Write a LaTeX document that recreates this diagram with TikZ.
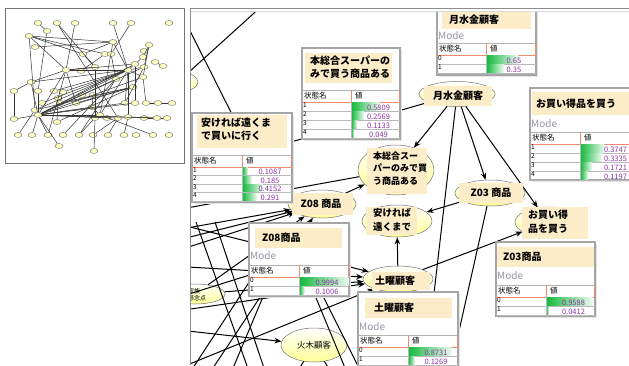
\documentclass[tikz,border=0pt]{standalone}
\usepackage{fontspec}
\setmainfont{Noto Sans CJK JP}
\usetikzlibrary{arrows.meta,shapes.geometric}
\definecolor{cream}{RGB}{252,236,200}
\definecolor{ellfill}{RGB}{255,255,150}
\definecolor{tfill}{RGB}{255,255,195}
\definecolor{barg}{RGB}{20,185,60}
\definecolor{valc}{RGB}{140,50,165}
\definecolor{hdr}{RGB}{240,140,110}
\definecolor{modec}{RGB}{150,150,165}
\definecolor{frame}{RGB}{165,165,165}
\tikzset{
  ell/.style={ellipse, draw=black!55, line width=0.5pt, top color=white, bottom color=ellfill, inner sep=0pt},
  labt/.style={font=\bfseries\fontsize{10}{12.5}\selectfont, inner sep=0pt, align=left},
  lnk/.style={draw=black, line width=1pt},
  arrw/.style={lnk, -{Stealth[length=7pt,width=5.5pt]}},
  modet/.style={font=\fontsize{10}{12}\selectfont, text=modec, inner sep=0pt},
  hdt/.style={font=\fontsize{7.5}{9}\selectfont, inner sep=0pt},
  rlt/.style={font=\fontsize{6.5}{7}\selectfont, inner sep=0pt},
  vlt/.style={font=\fontsize{7.5}{8}\selectfont, text=valc, inner sep=0pt},
  tn/.style={ellipse, draw=black!65, fill=tfill, minimum width=8pt, minimum height=5pt, inner sep=0pt, line width=0.35pt},
  tl/.style={draw=black!80, line width=0.5pt}
}
\newcommand\monbox[4]{%
  \fill[black!10] (#1+2,#2+2) rectangle (#3+2,#4+2);
  \filldraw[fill=white, draw=frame, line width=1.1pt] (#1,#2) rectangle (#3,#4);}
\newcommand\mtitle[4]{\fill[cream] (#1,#2) rectangle (#3,#4);}
\newcommand\modetext[2]{\node[modet, anchor=west] at (#1,#2) {Mode};}
\newcommand\mhead[4]{%
  \draw[gray!60, line width=0.5pt] (#1,#4) -- (#3,#4);
  \draw[hdr, line width=0.6pt] (#1,#4+12) -- (#3,#4+12) (#2,#4) -- (#2,#4+12) (#3-0.5,#4) -- (#3-0.5,#4+12);
  \node[hdt, anchor=west] at (#1+2,#4+6) {状態名};
  \node[hdt, anchor=west] at (#2+4,#4+6) {値};}
\newcommand\mrow[7]{%
  \pgfmathsetmacro\bw{max(1,(#3-#2-1)*#7)}
  \shade[left color=barg, right color=barg!8] (#2+0.5,#4+0.5) rectangle ++(\bw,#5-1);
  \draw[gray!55, line width=0.5pt] (#1,#4+#5) -- (#3,#4+#5) (#2,#4) -- (#2,#4+#5);
  \node[rlt, anchor=north west] at (#1+1,#4+0.3) {#6};
  \node[vlt] at ({(#2+#3)/2+3},#4+#5/2+1) {#7};}
\begin{document}
\begin{tikzpicture}[x=1pt,y=-1pt]
\useasboundingbox (0,0) rectangle (629,365);
\fill[white] (0,0) rectangle (629,365);

% ---------------- thumbnail ----------------
\draw[black!55, line width=0.8pt] (5,8) rectangle (184,163);
\foreach \n/\x/\y in {1/38/23,2/57/23,3/75/23,4/113/23,5/131/23,6/169/23,7/47/31,8/29/36,9/35/47,10/113/42,
 11/149/45,12/83/54,13/105/54,14/111/54,15/144/51,16/135/64,17/155/62,18/143/57,19/66/70,20/81/71,
 21/95/67,22/144/67,23/163/66,24/128/70,25/31/82,26/116/79,27/143/77,28/14/91,29/38/91,30/54/91,
 31/63/92,32/82/95,33/93/95,34/133/87,35/58/98,36/60/103,37/42/103,38/76/103,39/125/103,40/135/103,
 41/146/103,42/158/103,43/172/103,44/92/107,45/35/110,46/38/115,47/100/115,48/95/118,49/107/118,50/118/118,
 51/128/117,52/144/118,53/157/118,54/167/118,55/14/119,56/57/122,57/18/135,58/32/135,59/48/135,60/63/135,
 61/79/135,62/93/135,63/108/135,64/124/135,65/136/135,66/153/135,67/169/135,68/59/146,69/94/151}
  \node[tn] (t\n) at (\x,\y) {};
\foreach \a/\b in {46/24,46/34,46/26,46/39,46/51,46/50,46/22,46/16,46/47,46/44,46/27,46/40,45/24,45/34,37/24,
 46/49,46/53,19/24,19/46,19/25,19/8,19/21,19/16,25/24,25/28,25/46,8/10,8/12,8/13,7/1,2/21,2/50,4/24,5/14,
 10/12,10/24,11/27,11/22,11/18,16/24,24/22,24/27,24/51,24/39,24/31,24/30,34/36,34/38,34/56,26/61,26/60,
 51/53,51/52,51/64,50/63,50/62,47/44,47/66,47/49,46/59,46/58,46/55,46/68,48/69,48/61,12/21,13/20,8/45,
 29/46,31/36,35/56,33/44,19/38,16/40,22/39,27/41,23/17,18/16,42/43,41/42,52/53,53/54,10/47,10/9,7/29,
 28/55,45/57,19/59,24/47,3/19,14/26,21/48}
  \draw[tl] (t\a) -- (t\b);

% ---------------- main panel ----------------
\begin{scope}
\clip (191,11) rectangle (629,365);
% ellipses
\node[ell, minimum width=76pt, minimum height=25pt] (GSK) at (457,94) {};
\node[ell, minimum width=76pt, minimum height=50pt] (HON) at (396,170) {};
\node[ell, minimum width=68pt, minimum height=28pt] (Z08) at (322,204) {};
\node[ell, minimum width=70pt, minimum height=32pt] (YSK) at (397,221) {};
\node[ell, minimum width=70pt, minimum height=26pt] (Z03) at (490,193) {};
\node[ell, minimum width=66pt, minimum height=30pt] (OKD) at (548,222) {};
\node[ell, minimum width=70pt, minimum height=26pt] (DOY) at (398,279) {};
\node[ell, minimum width=66pt, minimum height=34pt, font=\fontsize{8.5}{10}\selectfont] (KAM) at (314,345) {火木顧客};
\node[ell, minimum width=60pt, minimum height=20pt] (KZK) at (195,294) {};
\node[ell, minimum width=40pt, minimum height=20pt] (EDG) at (178,82) {};
\node[font=\fontsize{6}{6.5}\selectfont, align=left, inner sep=0pt, anchor=west] (KZKt) at (188,294.5) {家族\\懸念点};
% free ends
\coordinate (g1) at (170,177);
\coordinate (g2) at (424,380);
\coordinate (g3) at (448,380);
\coordinate (g4) at (274,-5);
\coordinate (g5) at (177,5);
\coordinate (g6) at (255,160);
\coordinate (g7) at (170,211);
\coordinate (b1) at (170,231);
\coordinate (b2) at (170,242);
\coordinate (b3) at (170,253);
\coordinate (b4) at (205,380);
\coordinate (d1) at (170,222);
\coordinate (d2) at (170,266);
\coordinate (d3) at (170,312);
\coordinate (d4) at (170,372);
\coordinate (k1) at (170,329);
\coordinate (c1a) at (196,222); \coordinate (c1b) at (252,380);
\coordinate (c2a) at (215,222); \coordinate (c2b) at (268,380);
\coordinate (c3a) at (185,380); \coordinate (c3b) at (282,232);
\coordinate (c4a) at (228,380); \coordinate (c4b) at (292,228);
\coordinate (c5a) at (170,300); \coordinate (c5b) at (345,245);
\coordinate (c6a) at (300,250); \coordinate (c6b) at (365,380);
\coordinate (c7a) at (290,235); \coordinate (c7b) at (350,380);
\coordinate (c8a) at (292,380); \coordinate (c8b) at (336,380);
% connectors
\draw[arrw] (GSK) -- (HON);
\draw[arrw] (GSK) -- (Z03);
\draw[arrw] (GSK) -- (OKD);
\draw[arrw] (Z03) -- (YSK);
\draw[arrw] (DOY) -- (YSK);
\draw[arrw] (DOY) -- (OKD);
\draw[arrw] (Z08) -- (HON);
\draw[lnk] (GSK) -- (g1);
\draw[lnk] (GSK) -- (g2);
\draw[lnk] (Z03) -- (g3);
\draw[lnk] (EDG) -- (g4);
\draw[lnk] (g5) -- (g6);
\draw[lnk] (g7) -- (HON);
\draw[arrw] (b1) -- (Z08);
\draw[arrw] (b2) -- (Z08);
\draw[arrw] (b3) -- (Z08);
\draw[arrw] (b4) -- (Z08);
\draw[arrw] (KZK) -- (Z08);
\draw[arrw] (d1) -- (DOY);
\draw[arrw] (d2) -- (DOY);
\draw[arrw] (KZK) -- (DOY);
\draw[arrw] (d3) -- (DOY);
\draw[arrw] (d4) -- (DOY);
\draw[arrw] (k1) -- (KAM);
\draw[lnk] (c1a) -- (c1b);
\draw[lnk] (c2a) -- (c2b);
\draw[lnk] (c3a) -- (c3b);
\draw[lnk] (c4a) -- (c4b);
\draw[lnk] (c5a) -- (c5b);
\draw[lnk] (c6a) -- (c6b);
\draw[lnk] (c7a) -- (c7b);
\draw[lnk] (KAM) -- (c8a);
\draw[lnk] (KAM) -- (c8b);
% node labels
\fill[cream] (424,86) rectangle (492,106);
\node[labt] (GSKt) at (458,96) {月水金顧客};
\fill[cream] (367,148) rectangle (427,194);
\node[labt, font=\bfseries\fontsize{9}{12.5}\selectfont, anchor=north west] (HONt) at (373,151.5) {本総合スー\\パーのみで買\\う商品ある};
\fill[cream] (292,193) rectangle (353,215);
\node[labt] (Z08t) at (321,204) {Z08 商品};
\fill[cream] (366,207) rectangle (417,235);
\node[labt, font=\bfseries\fontsize{9.5}{14}\selectfont, anchor=north west] (YSKt) at (373,208) {安ければ\\遠くまで};
\fill[cream] (459,183) rectangle (523,203);
\node[labt] (Z03t) at (491,193) {Z03 商品};
\fill[cream] (522,207) rectangle (588,239);
\node[labt, font=\bfseries\fontsize{10}{14}\selectfont, anchor=north west] (OKDt) at (528,209.5) {お買い得\\品を買う};
\fill[cream] (372,272) rectangle (430,290);
\node[labt, anchor=west] (DOYt) at (375,281) {土曜顧客};

% monitors
% 月水金顧客
\monbox{437}{7}{536}{75}
\mtitle{442}{10}{531}{29}
\node[labt, anchor=west] (m1t) at (449,19.5) {月水金顧客};
\modetext{438}{35.5}
\mhead{437}{486}{536}{43}
\mrow{437}{486}{536}{55}{9}{0}{0.65}
\mrow{437}{486}{536}{64}{9}{1}{0.35}
% 本総合
\monbox{302}{48}{400}{139}
\mtitle{305}{53}{392}{83}
\node[labt, anchor=north west] (m2t) at (310,56) {本総合スーパーの\\みで買う商品ある};
\mhead{302}{351}{400}{90}
\mrow{302}{351}{400}{102}{9}{1}{0.5809}
\mrow{302}{351}{400}{111}{9}{2}{0.2569}
\mrow{302}{351}{400}{120}{9}{3}{0.1133}
\mrow{302}{351}{400}{129}{9}{4}{0.049}
% 安ければ
\monbox{192}{113}{292}{202}
\mtitle{197}{115}{287}{148}
\node[labt, anchor=north west] (m3t) at (201,118) {安ければ遠くま\\で買いに行く};
\mhead{192}{242}{292}{155}
\mrow{192}{242}{292}{167}{8.5}{1}{0.1087}
\mrow{192}{242}{292}{175.5}{8.5}{2}{0.185}
\mrow{192}{242}{292}{184}{8.5}{3}{0.4152}
\mrow{192}{242}{292}{192.5}{8.5}{4}{0.291}
% お買い得
\monbox{530}{88}{645}{180}
\mtitle{532}{92}{645}{115}
\node[labt, anchor=west] (m4t) at (536,103.5) {お買い得品を買う};
\modetext{531}{123.5}
\mhead{530}{580}{645}{132}
\mrow{530}{580}{645}{144}{9}{1}{0.3747}
\mrow{530}{580}{645}{153}{9}{2}{0.3335}
\mrow{530}{580}{645}{162}{9}{3}{0.1721}
\mrow{530}{580}{645}{171}{9}{4}{0.1197}
% Z08商品
\monbox{249}{223}{349}{296}
\mtitle{255}{228}{342}{248}
\node[labt, anchor=west] (m5t) at (262,238) {Z08商品};
\modetext{250}{255.5}
\mhead{249}{299}{349}{265}
\mrow{249}{299}{349}{277}{9}{0}{0.9994}
\mrow{249}{299}{349}{286}{9}{1}{0.1006}
% Z03商品
\monbox{496}{242}{595}{316}
\mtitle{497}{247}{594}{267}
\node[labt, anchor=west] (m6t) at (503,257) {Z03商品};
\modetext{497}{275.5}
\mhead{496}{546}{595}{285}
\mrow{496}{546}{595}{297}{9}{0}{0.9588}
\mrow{496}{546}{595}{306}{9}{1}{0.0412}
% 土曜顧客
\monbox{358}{292}{458}{385}
\mtitle{365}{298}{452}{318}
\node[labt, anchor=west] (m7t) at (374,308) {土曜顧客};
\modetext{359}{326.5}
\mhead{358}{408}{458}{335}
\mrow{358}{408}{458}{347}{9}{0}{0.8731}
\mrow{358}{408}{458}{356}{9}{1}{0.1269}
\end{scope}
% panel frame
\draw[black!45, line width=1pt] (190.5,365) -- (190.5,8.5) -- (629,8.5);
\draw[black!15, line width=1pt] (191,11) -- (629,11);
\end{tikzpicture}
\end{document}
